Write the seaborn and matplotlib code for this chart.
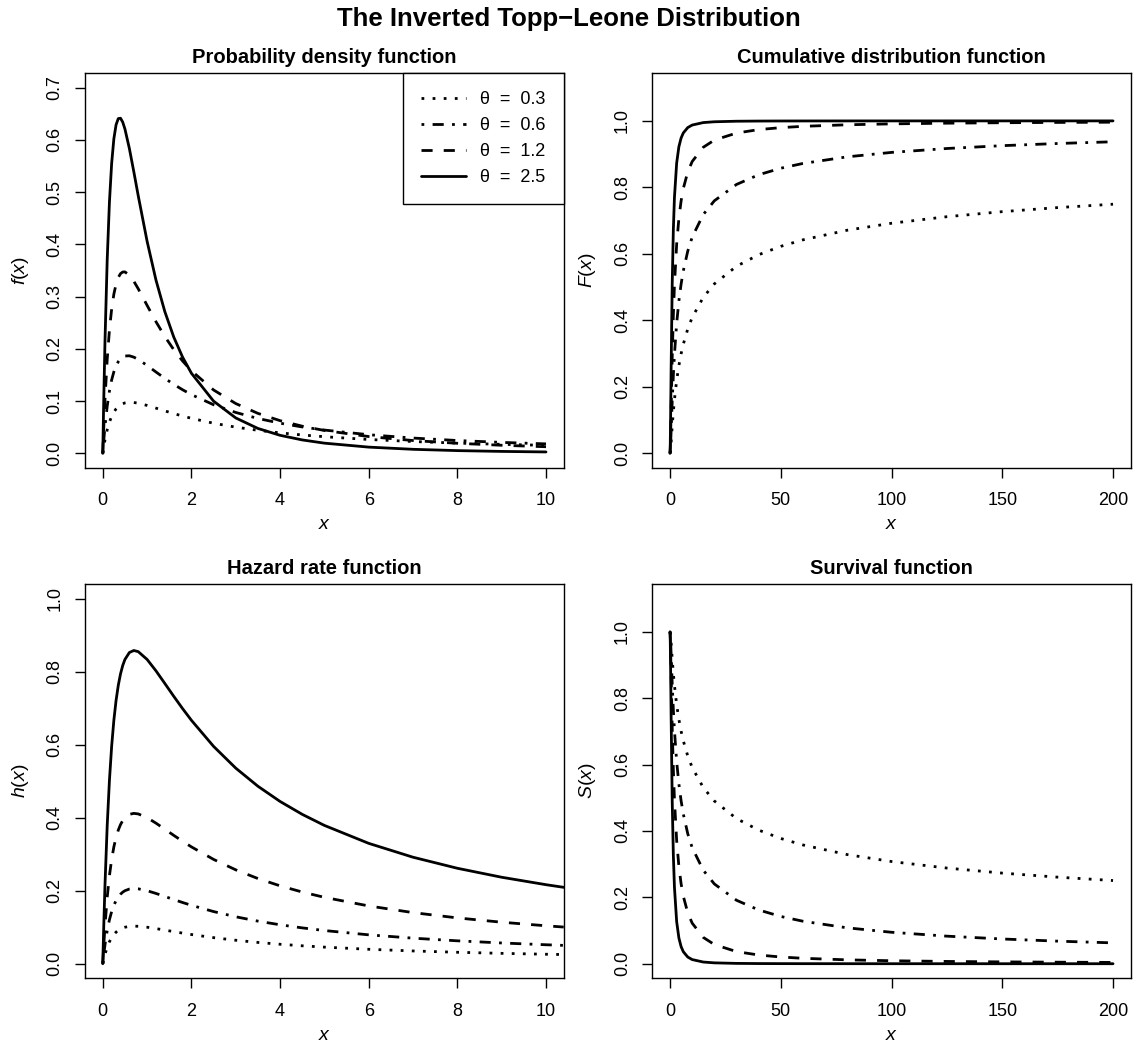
import matplotlib
matplotlib.use("Agg")
import matplotlib.pyplot as plt
import seaborn as sns
import pandas as pd

# ---------------- data ----------------
theta_labels = ["θ  =  0.3", "θ  =  0.6", "θ  =  1.2", "θ  =  2.5"]

x_pdf = [0, 0.02, 0.05, 0.1, 0.15, 0.2, 0.25, 0.3, 0.35, 0.4, 0.45, 0.5, 0.6, 0.7, 0.8,
         1.0, 1.2, 1.4, 1.6, 1.8, 2.0, 2.5, 3.0, 3.5, 4.0, 4.5, 5, 6, 7, 8, 9, 10]
pdf_03 = [0, 0.01131, 0.02596, 0.04534, 0.05989, 0.07083, 0.07903, 0.08513, 0.08961, 0.09284,
          0.09507, 0.09653, 0.09773, 0.09736, 0.09601, 0.09173, 0.08658, 0.08130, 0.07622,
          0.07146, 0.06707, 0.05766, 0.05017, 0.04415, 0.03925, 0.03522, 0.03185, 0.02657,
          0.02265, 0.01964, 0.01727, 0.01536]
pdf_06 = [0, 0.02262, 0.05188, 0.09046, 0.11917, 0.14046, 0.15613, 0.16749, 0.17552, 0.18099,
          0.18445, 0.18635, 0.18677, 0.18417, 0.17976, 0.16829, 0.15575, 0.14353, 0.13215,
          0.12179, 0.11245, 0.09309, 0.07829, 0.06683, 0.05778, 0.05053, 0.04463, 0.03569,
          0.02931, 0.02459, 0.02099, 0.01816]
pdf_12 = [0, 0.04523, 0.10361, 0.18002, 0.23589, 0.27622, 0.30470, 0.32415, 0.33669, 0.34395,
          0.34715, 0.34728, 0.34107, 0.32948, 0.31504, 0.28323, 0.25203, 0.22365, 0.19864,
          0.17689, 0.15806, 0.12133, 0.09535, 0.07656, 0.06260, 0.05202, 0.04383, 0.03220,
          0.02455, 0.01927, 0.01550, 0.01270]
pdf_25 = [0, 0.09418, 0.21523, 0.37101, 0.48060, 0.55476, 0.60199, 0.62894, 0.64077, 0.64146,
          0.63402, 0.62078, 0.58351, 0.53915, 0.49304, 0.40595, 0.33176, 0.27132, 0.22291,
          0.18427, 0.15337, 0.09994, 0.06783, 0.04770, 0.03456, 0.02571, 0.01955, 0.01195,
          0.00776, 0.00527, 0.00373, 0.00272]

x_cdf = [0, 0.1, 0.25, 0.5, 1, 1.5, 2, 3, 4, 5, 6, 8, 10, 15, 20, 30, 40, 50, 60, 80,
         100, 125, 150, 175, 200]
cdf_03 = [0, 0.00249, 0.01217, 0.03472, 0.08269, 0.12531, 0.16166, 0.21964, 0.26400, 0.29933,
          0.32840, 0.37400, 0.40868, 0.46919, 0.50965, 0.56270, 0.59740, 0.62264, 0.64220,
          0.67118, 0.69213, 0.71181, 0.72699, 0.73921, 0.74937]
cdf_06 = [0, 0.00497, 0.02419, 0.06823, 0.15853, 0.23492, 0.29720, 0.39105, 0.45831, 0.50903,
          0.54892, 0.60812, 0.65033, 0.71824, 0.75956, 0.80877, 0.83791, 0.85760, 0.87198,
          0.89188, 0.90522, 0.91695, 0.92546, 0.93199, 0.93719]
cdf_12 = [0, 0.00991, 0.04780, 0.13181, 0.29194, 0.41465, 0.50607, 0.62918, 0.70657, 0.75895,
          0.79653, 0.84643, 0.87773, 0.92061, 0.94219, 0.96343, 0.97373, 0.97972, 0.98361,
          0.98831, 0.99102, 0.99310, 0.99444, 0.99537, 0.99605]
cdf_25 = [0, 0.02053, 0.09702, 0.25506, 0.51286, 0.67232, 0.76995, 0.87338, 0.92224, 0.94839,
          0.96375, 0.97983, 0.98745, 0.99490, 0.99736, 0.99898, 0.99949, 0.99970, 0.99981,
          0.99990, 0.99994, 0.99997, 0.99998, 0.99999, 0.99999]

surv_03 = [1, 0.99751, 0.98783, 0.96528, 0.91731, 0.87469, 0.83834, 0.78036, 0.73600, 0.70067,
           0.67160, 0.62600, 0.59132, 0.53081, 0.49035, 0.43730, 0.40260, 0.37736, 0.35780,
           0.32882, 0.30787, 0.28819, 0.27301, 0.26079, 0.25063]
surv_06 = [1, 0.99503, 0.97581, 0.93177, 0.84147, 0.76508, 0.70280, 0.60895, 0.54169, 0.49097,
           0.45108, 0.39188, 0.34967, 0.28176, 0.24044, 0.19123, 0.16209, 0.14240, 0.12802,
           0.10812, 0.09478, 0.08305, 0.07454, 0.06801, 0.06281]
surv_12 = [1, 0.99009, 0.95220, 0.86819, 0.70806, 0.58535, 0.49393, 0.37082, 0.29343, 0.24105,
           0.20347, 0.15357, 0.12227, 0.07939, 0.05781, 0.03657, 0.02627, 0.02028, 0.01639,
           0.01169, 0.00898, 0.00690, 0.00556, 0.00463, 0.00395]
surv_25 = [1, 0.97947, 0.90298, 0.74494, 0.48714, 0.32768, 0.23005, 0.12662, 0.07776, 0.05161,
           0.03625, 0.02017, 0.01255, 0.00510, 0.00264, 0.00102, 0.00051, 0.00030, 0.00019,
           0.00010, 0.00006, 0.00003, 0.00002, 0.00001, 0.00001]

x_haz = [0, 0.02, 0.05, 0.1, 0.15, 0.2, 0.25, 0.3, 0.35, 0.4, 0.45, 0.5, 0.6, 0.7, 0.8,
         1.0, 1.2, 1.4, 1.6, 1.8, 2.0, 2.5, 3.0, 3.5, 4.0, 4.5, 5, 6, 7, 8, 9, 10, 10.4]
haz_03 = [0, 0.01131, 0.02597, 0.04545, 0.06020, 0.07143, 0.08000, 0.08654, 0.09150, 0.09524,
          0.09800, 0.10000, 0.10227, 0.10294, 0.10256, 0.10000, 0.09626, 0.09211, 0.08791,
          0.08385, 0.08000, 0.07143, 0.06429, 0.05833, 0.05333, 0.04909, 0.04545, 0.03956,
          0.03500, 0.03137, 0.02842, 0.02597, 0.02511]
haz_06 = [0, 0.02262, 0.05195, 0.09091, 0.12040, 0.14286, 0.16000, 0.17308, 0.18301, 0.19048,
          0.19601, 0.20000, 0.20455, 0.20588, 0.20513, 0.20000, 0.19251, 0.18421, 0.17582,
          0.16770, 0.16000, 0.14286, 0.12857, 0.11667, 0.10667, 0.09818, 0.09091, 0.07912,
          0.07000, 0.06275, 0.05684, 0.05195, 0.05022]
haz_12 = [0, 0.04525, 0.10390, 0.18182, 0.24080, 0.28571, 0.32000, 0.34615, 0.36601, 0.38095,
          0.39201, 0.40000, 0.40909, 0.41177, 0.41026, 0.40000, 0.38503, 0.36842, 0.35165,
          0.33540, 0.32000, 0.28571, 0.25714, 0.23333, 0.21333, 0.19636, 0.18182, 0.15824,
          0.14000, 0.12549, 0.11368, 0.10390, 0.10044]
haz_25 = [0, 0.09427, 0.21645, 0.37879, 0.50167, 0.59524, 0.66667, 0.72115, 0.76253, 0.79365,
          0.81670, 0.83333, 0.85227, 0.85784, 0.85470, 0.83333, 0.80214, 0.76754, 0.73260,
          0.69876, 0.66667, 0.59524, 0.53571, 0.48611, 0.44444, 0.40909, 0.37879, 0.32967,
          0.29167, 0.26144, 0.23684, 0.21645, 0.20924]

pdf_ticks = [0.0, 0.1, 0.2, 0.3, 0.4, 0.5, 0.6, 0.7]
unit_ticks = [0.0, 0.2, 0.4, 0.6, 0.8, 1.0]
x10_ticks = [0, 2, 4, 6, 8, 10]
x200_ticks = [0, 50, 100, 150, 200]

# ---------------- style ----------------
sns.set_theme(style="white")
plt.rcParams["font.family"] = ["Liberation Sans", "DejaVu Sans"]
plt.rcParams["mathtext.fontset"] = "custom"
plt.rcParams["mathtext.rm"] = "Liberation Sans"
plt.rcParams["mathtext.it"] = "Liberation Sans:italic"
plt.rcParams["text.color"] = "black"
plt.rcParams["axes.labelcolor"] = "black"
plt.rcParams["xtick.color"] = "black"
plt.rcParams["ytick.color"] = "black"
plt.rcParams["axes.edgecolor"] = "black"
plt.rcParams["axes.linewidth"] = 1.0

line_styles = [(0, (1, 3)), (0, (1, 3, 4, 3)), (0, (4, 4)), "solid"]
LW = 2.0
TICK_FS = 13
TITLE_FS = 14.5

fig = plt.figure(figsize=(11.37, 10.43), dpi=100)
ax_pdf = fig.add_axes([0.0748, 0.5513, 0.4210, 0.3787])
ax_cdf = fig.add_axes([0.5737, 0.5513, 0.4208, 0.3787])
ax_haz = fig.add_axes([0.0748, 0.0620, 0.4210, 0.3781])
ax_sur = fig.add_axes([0.5737, 0.0620, 0.4208, 0.3781])


def draw(ax, xs, series, labels=None):
    for i, ys in enumerate(series):
        df = pd.DataFrame({"x": xs, "y": ys})
        kw = {}
        if labels is not None:
            kw["label"] = labels[i]
        sns.lineplot(data=df, x="x", y="y", ax=ax, color="black", linewidth=LW,
                     estimator=None, sort=False, legend=False, **kw)
        ln = ax.lines[-1]
        ln.set_linestyle(line_styles[i])
        ln.set_dash_capstyle("butt")
        ln.set_solid_capstyle("round")


def style(ax, title, ylab, xlim, ylim, xt, yt):
    ax.set_xlim(*xlim)
    ax.set_ylim(*ylim)
    ax.set_xticks(xt)
    ax.set_yticks(yt)
    ax.set_xticklabels([str(t) for t in xt])
    ax.set_yticklabels([f"{t:.1f}" for t in yt], rotation=90, va="center")
    ax.tick_params(axis="both", which="major", direction="out", length=7.5, width=1.0,
                   colors="black", labelcolor="black", labelsize=TICK_FS,
                   bottom=True, left=True)
    ax.tick_params(axis="x", pad=10)
    ax.tick_params(axis="y", pad=8)
    for s in ax.spines.values():
        s.set_visible(True)
        s.set_color("black")
        s.set_linewidth(1.0)
    ax.set_title(title, fontsize=TITLE_FS, fontweight="bold", pad=7, color="black")
    ax.set_xlabel("$x$", fontsize=14, labelpad=5, color="black")
    ax.set_ylabel(ylab, fontsize=14, labelpad=11, color="black")
    ax.set_facecolor("white")


draw(ax_pdf, x_pdf, [pdf_03, pdf_06, pdf_12, pdf_25], theta_labels)
style(ax_pdf, "Probability density function", "$f(x)$", (-0.4, 10.4), (-0.028, 0.728),
      x10_ticks, pdf_ticks)
leg = ax_pdf.legend(loc="upper right", bbox_to_anchor=(1.0, 1.0), borderaxespad=0,
                    fontsize=TICK_FS, handlelength=2.5, handletextpad=0.8,
                    borderpad=1.0, labelspacing=0.5, fancybox=False, framealpha=1)
leg.get_frame().set_edgecolor("black")
leg.get_frame().set_linewidth(1.0)
for t in leg.get_texts():
    t.set_color("black")

draw(ax_cdf, x_cdf, [cdf_03, cdf_06, cdf_12, cdf_25])
style(ax_cdf, "Cumulative distribution function", "$F(x)$", (-8, 208), (-0.044, 1.144),
      x200_ticks, unit_ticks)

draw(ax_haz, x_haz, [haz_03, haz_06, haz_12, haz_25])
style(ax_haz, "Hazard rate function", "$h(x)$", (-0.4, 10.4), (-0.04, 1.04),
      x10_ticks, unit_ticks)

draw(ax_sur, x_cdf, [surv_03, surv_06, surv_12, surv_25])
style(ax_sur, "Survival function", "$S(x)$", (-8, 208), (-0.044, 1.144),
      x200_ticks, unit_ticks)

fig.text(0.5, 0.982, "The Inverted Topp\u2212Leone Distribution", ha="center", va="center",
         fontsize=18.5, fontweight="bold", color="black")

fig.savefig("out.png", dpi=100, facecolor="white")
